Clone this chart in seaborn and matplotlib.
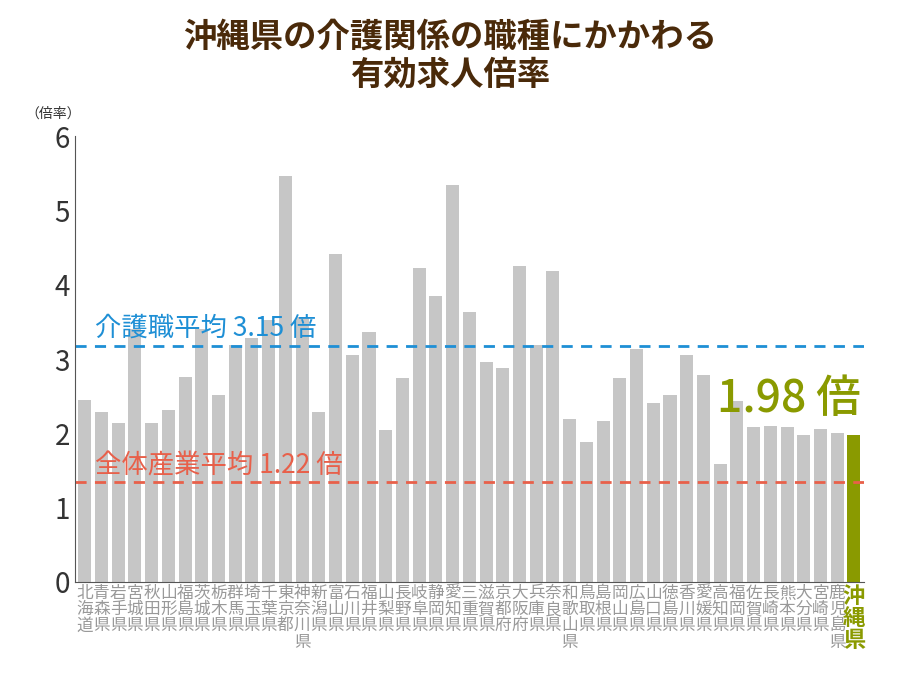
import matplotlib
matplotlib.use("Agg")
import matplotlib.pyplot as plt
import seaborn as sns
import pandas as pd

plt.rcParams["font.family"] = "Noto Sans CJK JP"

# ── Data ──────────────────────────────────────────────────────────────────────
prefs = ["北海道", "青森県", "岩手県", "宮城県", "秋田県", "山形県", "福島県", "茨城県",
         "栃木県", "群馬県", "埼玉県", "千葉県", "東京都", "神奈川県", "新潟県", "富山県",
         "石川県", "福井県", "山梨県", "長野県", "岐阜県", "静岡県", "愛知県", "三重県",
         "滋賀県", "京都府", "大阪府", "兵庫県", "奈良県", "和歌山県", "鳥取県", "島根県",
         "岡山県", "広島県", "山口県", "徳島県", "香川県", "愛媛県", "高知県", "福岡県",
         "佐賀県", "長崎県", "熊本県", "大分県", "宮崎県", "鹿児島県", "沖縄県"]
ratios = [2.45, 2.29, 2.14, 3.40, 2.14, 2.32, 2.76, 3.40,
          2.51, 3.19, 3.29, 3.53, 5.46, 3.57, 2.29, 4.42,
          3.05, 3.36, 2.05, 2.74, 4.23, 3.85, 5.35, 3.63,
          2.96, 2.88, 4.26, 3.19, 4.19, 2.20, 1.89, 2.16,
          2.74, 3.13, 2.41, 2.52, 3.06, 2.78, 1.59, 2.44,
          2.09, 2.10, 2.09, 1.98, 2.06, 2.01, 1.98]
care_avg = 3.15
all_avg = 1.22

GRAY = "#C6C6C6"
OLIVE = "#8A9A00"
BLUE = "#1E8FD5"
RED = "#E8604A"

df = pd.DataFrame({"pref": prefs, "ratio": ratios})
palette = {p: (OLIVE if p == "沖縄県" else GRAY) for p in prefs}

fig = plt.figure(figsize=(9, 6.75), dpi=100)
ax = fig.add_axes([0.083, 0.138, 0.877, 0.66])
sns.barplot(data=df, x="pref", y="ratio", hue="pref", palette=palette,
            legend=False, width=0.78, ax=ax, saturation=1)

ax.set_ylim(0, 6)
ax.set_xlim(-0.6, len(prefs) - 0.4)
ax.set_yticks(range(7))
ax.tick_params(axis="y", labelsize=20, colors="#333333", length=0)
ax.set_xticks(range(len(prefs)))
ax.set_xticklabels(["\n".join(p) for p in prefs], fontsize=12, color="#999999",
                   linespacing=0.95, va="top")
ax.tick_params(axis="x", length=0, pad=2)
last = ax.get_xticklabels()[-1]
last.set_color(OLIVE)
last.set_fontsize(16)
last.set_fontweight("bold")
ax.set_xlabel("")
ax.set_ylabel("")
for s in ["top", "right"]:
    ax.spines[s].set_visible(False)
for s in ["left", "bottom"]:
    ax.spines[s].set_color("#555555")
ax.grid(False)

# ── Reference lines ───────────────────────────────────────────────────────────
ax.axhline(care_avg + 0.03, color=BLUE, ls=(0, (4, 3)), lw=2)
ax.axhline(all_avg + 0.12, color=RED, ls=(0, (4, 3)), lw=2)
ax.text(0.6, care_avg + 0.08, f"介護職平均 {care_avg:.2f} 倍", color=BLUE,
        fontsize=19, va="bottom")
ax.text(0.6, all_avg + 0.16, f"全体産業平均 {all_avg:.2f} 倍", color=RED,
        fontsize=19, va="bottom")
ax.text(len(prefs) - 0.6, 2.15, f"{ratios[-1]:.2f} 倍", color=OLIVE,
        fontsize=32, fontweight="medium", ha="right", va="bottom")

fig.text(0.028, 0.825, "（倍率）", fontsize=10, color="#333333")
fig.suptitle("沖縄県の介護関係の職種にかかわる\n有効求人倍率", y=0.97,
             fontsize=24, fontweight="bold", color="#4A2A0A", linespacing=1.2)

fig.savefig("out.png", dpi=100)
